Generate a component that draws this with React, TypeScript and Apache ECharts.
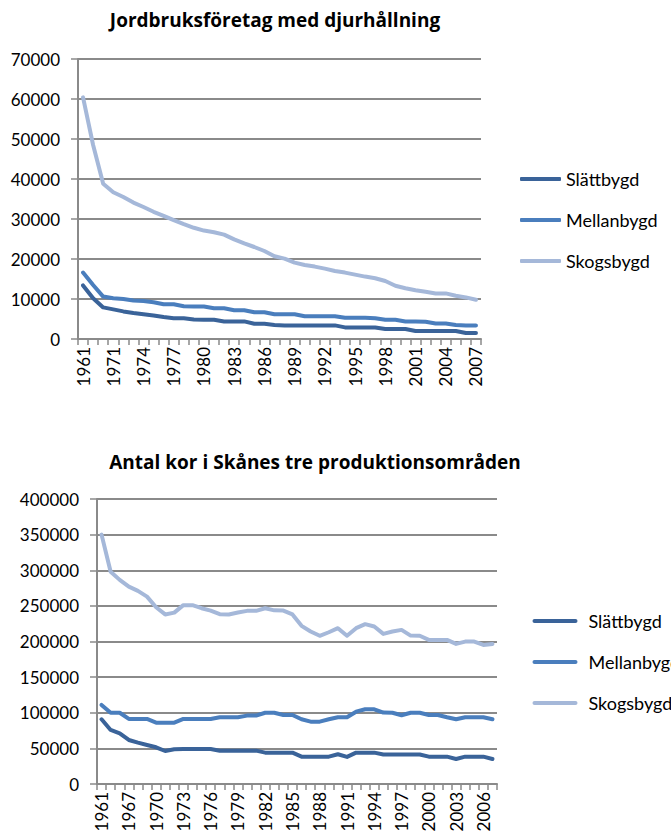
import React, { useEffect, useRef } from "react";
import * as echarts from "echarts";

const topTitle = "Jordbruksföretag med djurhållning";
const bottomTitle = "Antal kor i Skånes tre produktionsområden";
const seriesNames = ["Slättbygd", "Mellanbygd", "Skogsbygd"];

const topYears = [
  "1961", "1966", "1969", "1971", "1972", "1973", "1974", "1975", "1976", "1977",
  "1978", "1979", "1980", "1981", "1982", "1983", "1984", "1985", "1986", "1987",
  "1988", "1989", "1990", "1991", "1992", "1993", "1994", "1995", "1996", "1997",
  "1998", "1999", "2000", "2001", "2002", "2003", "2004", "2005", "2006", "2007",
];
const topSlatt = [
  13400, 10200, 7900, 7400, 6900, 6500, 6200, 5900, 5500, 5200,
  5200, 4900, 4800, 4800, 4400, 4400, 4400, 3800, 3800, 3500,
  3400, 3400, 3400, 3400, 3400, 3400, 2900, 2900, 2900, 2900,
  2500, 2500, 2500, 2000, 2000, 2000, 2000, 2000, 1500, 1500,
];
const topMellan = [
  16600, 13500, 10600, 10200, 10000, 9600, 9500, 9200, 8700, 8700,
  8200, 8100, 8100, 7700, 7700, 7200, 7200, 6700, 6700, 6200,
  6200, 6200, 5700, 5700, 5700, 5700, 5300, 5300, 5300, 5200,
  4800, 4800, 4400, 4400, 4300, 3900, 3900, 3500, 3400, 3400,
];
const topSkog = [
  60400, 48500, 38800, 36700, 35500, 34100, 33000, 31800, 30800, 29700,
  28700, 27800, 27100, 26700, 26100, 24900, 23900, 23000, 22000, 20700,
  20100, 19100, 18500, 18100, 17600, 17000, 16600, 16100, 15600, 15200,
  14500, 13300, 12700, 12200, 11800, 11400, 11400, 10800, 10400, 9800,
];

const bottomYears = [
  "1961", "1964", "1966", "1967", "1968", "1969", "1970", "1971", "1972", "1973",
  "1974", "1975", "1976", "1977", "1978", "1979", "1980", "1981", "1982", "1983",
  "1984", "1985", "1986", "1987", "1988", "1989", "1990", "1991", "1992", "1993",
  "1994", "1995", "1996", "1997", "1998", "1999", "2000", "2001", "2002", "2003",
  "2004", "2005", "2006", "2007",
];
const bottomSlatt = [
  90800, 75800, 71200, 61800, 58000, 54800, 51500, 46300, 48700, 49000,
  49000, 49000, 49000, 46800, 46800, 46800, 46800, 46800, 44000, 44000,
  44000, 44000, 38400, 38400, 38400, 38400, 41700, 38000, 44000, 44000,
  44000, 41300, 41300, 41300, 41300, 41300, 38400, 38400, 38400, 35100,
  38400, 38400, 38400, 35100,
];
const bottomMellan = [
  111000, 100000, 100000, 91300, 91300, 91300, 86100, 86100, 86100, 91300,
  91300, 91300, 91300, 93700, 93700, 93700, 96000, 96000, 100000, 100000,
  96900, 96900, 90800, 87500, 87500, 90800, 93700, 93700, 101500, 104900,
  104900, 100200, 100000, 96500, 100000, 100000, 96900, 96900, 93700, 90800,
  93700, 93700, 93700, 90800,
];
const bottomSkog = [
  350000, 298000, 286500, 277000, 271000, 263000, 248000, 238000, 240500, 251000,
  251000, 246700, 243400, 238300, 238000, 240600, 243000, 243000, 246700, 243700,
  243400, 238000, 222000, 214000, 208000, 213000, 218700, 208000, 218700, 224300,
  221000, 210700, 214000, 216300, 208300, 208000, 202200, 202200, 202200, 196600,
  199900, 199900, 195200, 196600,
];

const colors = ["#3A6399", "#4A7EBD", "#A5B8D9"];
const FONT = "Lato";
const TITLE_FONT = "Open Sans";
const GRID_COLOR = "#8a8a8a";

function makeX(gridIndex: number, data: string[]) {
  return {
    type: "category",
    gridIndex,
    data,
    boundaryGap: true,
    axisLine: { show: true, lineStyle: { color: GRID_COLOR, width: 2 } },
    axisTick: { show: true, interval: 0, length: 6, lineStyle: { color: GRID_COLOR, width: 1.5 } },
    axisLabel: {
      interval: 2,
      rotate: 90,
      margin: 8,
      fontFamily: FONT,
      fontSize: 17,
      color: "#000",
    },
    splitLine: { show: false },
  };
}

function makeY(gridIndex: number, max: number, interval: number) {
  return {
    type: "value",
    gridIndex,
    min: 0,
    max,
    interval,
    axisLine: { show: true, lineStyle: { color: GRID_COLOR, width: 2 } },
    axisTick: { show: true, length: 7, lineStyle: { color: GRID_COLOR, width: 1.5 } },
    axisLabel: {
      margin: 18,
      fontFamily: FONT,
      fontSize: 17,
      color: "#000",
      formatter: (v: number) => String(v),
    },
    splitLine: { show: true, lineStyle: { color: GRID_COLOR, width: 2 } },
  };
}

function makeLine(name: string, data: number[], idx: number, axisIndex: number) {
  return {
    type: "line",
    name,
    data,
    xAxisIndex: axisIndex,
    yAxisIndex: axisIndex,
    symbol: "none",
    smooth: false,
    lineStyle: { color: colors[idx], width: 4, join: "round", cap: "round" },
    itemStyle: { color: colors[idx] },
  };
}

export default function App() {
  const ref = useRef<HTMLDivElement>(null);
  useEffect(() => {
    if (!ref.current) return;
    const chart = echarts.init(ref.current, undefined, { renderer: "svg" });
    const option = {
      animation: false,
      backgroundColor: "#fff",
      grid: [
        { left: 78, top: 59, width: 403, height: 280, containLabel: false },
        { left: 97, top: 499, width: 400, height: 285, containLabel: false },
      ],
      xAxis: [makeX(0, topYears), makeX(1, bottomYears)],
      yAxis: [makeY(0, 70000, 10000), makeY(1, 400000, 50000)],
      legend: [
        {
          orient: "vertical",
          left: 515,
          top: 164,
          icon: "roundRect",
          itemWidth: 41,
          itemHeight: 4,
          itemGap: 21,
          itemTextGap: 15,
          selectedMode: false,
          data: seriesNames.map((n) => ({ name: n })),
          textStyle: { fontFamily: FONT, fontSize: 18, color: "#000", lineHeight: 20, height: 20 },
        },
      ],
      series: [
        makeLine(seriesNames[0], topSlatt, 0, 0),
        makeLine(seriesNames[1], topMellan, 1, 0),
        makeLine(seriesNames[2], topSkog, 2, 0),
        makeLine(seriesNames[0], bottomSlatt, 0, 1),
        makeLine(seriesNames[1], bottomMellan, 1, 1),
        makeLine(seriesNames[2], bottomSkog, 2, 1),
      ],
      graphic: [
        {
          type: "text",
          x: 275,
          y: 20,
          style: {
            text: topTitle,
            fontFamily: TITLE_FONT,
            fontWeight: "bold",
            fontSize: 19,
            fill: "#000",
            textAlign: "center",
            textVerticalAlign: "middle",
          },
        },
        {
          type: "text",
          x: 315,
          y: 462,
          style: {
            text: bottomTitle,
            fontFamily: TITLE_FONT,
            fontWeight: "bold",
            fontSize: 19,
            fill: "#000",
            textAlign: "center",
            textVerticalAlign: "middle",
          },
        },
        {
          type: "group",
          left: 532,
          top: 612,
          children: seriesNames.map((n, i) => ({
            type: "group",
            y: i * 41,
            children: [
              {
                type: "line",
                shape: { x1: 0, y1: 10, x2: 41, y2: 10 },
                style: { stroke: colors[i], lineWidth: 4, lineCap: "round" },
              },
              {
                type: "text",
                x: 54,
                y: 10,
                style: {
                  text: n,
                  fontFamily: FONT,
                  fontSize: 18,
                  fill: "#000",
                  textVerticalAlign: "middle",
                },
              },
            ],
          })),
        },
      ],
    };
    chart.setOption(option as any);
    return () => chart.dispose();
  }, []);
  return (
    <div
      ref={ref}
      style={{ position: "absolute", left: 0, top: 0, width: 671, height: 836, background: "#fff" }}
    />
  );
}
